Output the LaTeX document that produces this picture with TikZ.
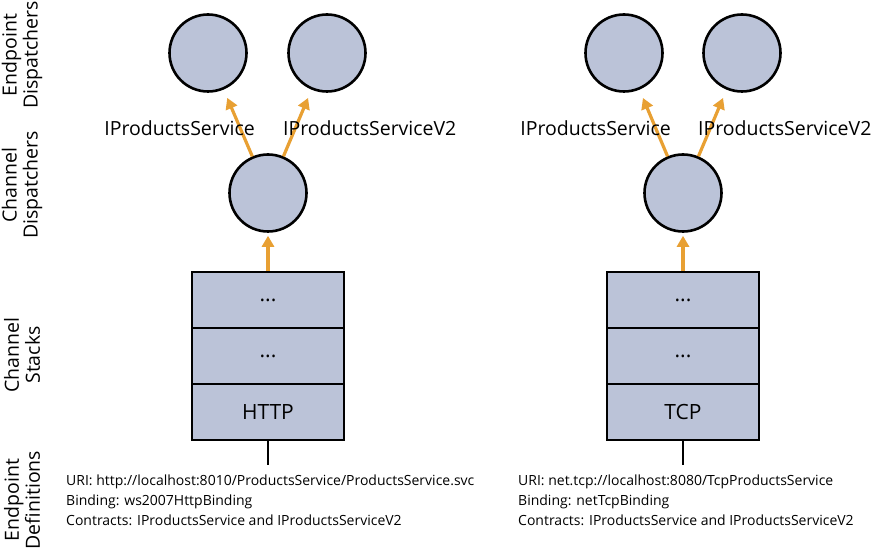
\documentclass[tikz,border=0pt]{standalone}
\usepackage{fontspec}
\setmainfont{Open Sans}
\usetikzlibrary{arrows.meta}
\definecolor{cfill}{HTML}{BBC3D8}
\definecolor{carrow}{HTML}{E8A033}
\tikzset{
  disp/.style={circle, draw=black, fill=cfill, line width=2.6pt, minimum size=77pt, inner sep=0pt},
  layer/.style={rectangle, draw=black, fill=cfill, line width=2.6pt, minimum width=152pt, minimum height=56pt, inner sep=0pt, font=\fontsize{21}{24}\selectfont},
  flow/.style={draw=carrow, line width=3.2pt, -{Triangle[length=11pt,width=12pt]}},
  contract/.style={font=\fontsize{19.5}{22}\selectfont, inner sep=0pt},
  rowlabel/.style={rotate=90, align=center, inner sep=0pt, font=\fontsize{19.5}{21}\selectfont},
  defs/.style={align=left, anchor=north west, inner sep=0pt, font=\fontsize{14}{20}\selectfont},
  stem/.style={draw=black, line width=2.6pt}
}
\begin{document}
\begin{tikzpicture}[x=1pt,y=-1pt]
\useasboundingbox (0,0) rectangle (873,553);
\fill[white] (0,0) rectangle (873,553);
% row labels
\node[rowlabel] (l1) at (22,55) {Endpoint\\Dispatchers};
\node[rowlabel] (l2) at (22,185) {Channel\\Dispatchers};
\node[rowlabel] (l3) at (22,355) {Channel\\Stacks};
\node[rowlabel] (l4) at (22,500) {Endpoint\\Definitions};
% left column
\node[disp] (ep1) at (208,53) {};
\node[disp] (ep2) at (327,53) {};
\node[disp] (cd1) at (268,193) {};
\node[layer] (sa1) at (268,300) {...};
\node[layer] (sb1) at (268,356) {...};
\node[layer] (sc1) at (268,412) {HTTP};
\coordinate (st1) at (268,465);
\draw[stem] (sc1.south) -- (st1);
\draw[flow, shorten >=3pt] (sa1.north) -- (cd1.south);
\draw[flow, shorten >=9pt] (cd1) -- (ep1);
\draw[flow, shorten >=9pt] (cd1) -- (ep2);
\node[contract, anchor=east] (c1a) at (255,128) {IProductsService};
\node[contract, anchor=west] (c1b) at (283,128) {IProductsServiceV2};
\node[defs] (d1) at (66,475) {URI: http://localhost:8010/ProductsService/ProductsService.svc\\Binding: ws2007HttpBinding\\Contracts: IProductsService and IProductsServiceV2};
% right column
\node[disp] (ep3) at (624,53) {};
\node[disp] (ep4) at (742,53) {};
\node[disp] (cd2) at (683,193) {};
\node[layer] (sa2) at (683,300) {...};
\node[layer] (sb2) at (683,356) {...};
\node[layer] (sc2) at (683,412) {TCP};
\coordinate (st2) at (683,465);
\draw[stem] (sc2.south) -- (st2);
\draw[flow, shorten >=3pt] (sa2.north) -- (cd2.south);
\draw[flow, shorten >=9pt] (cd2) -- (ep3);
\draw[flow, shorten >=9pt] (cd2) -- (ep4);
\node[contract, anchor=east] (c2a) at (671,128) {IProductsService};
\node[contract, anchor=west] (c2b) at (698,128) {IProductsServiceV2};
\node[defs] (d2) at (518,475) {URI: net.tcp://localhost:8080/TcpProductsService\\Binding: netTcpBinding\\Contracts: IProductsService and IProductsServiceV2};
\end{tikzpicture}
\end{document}
